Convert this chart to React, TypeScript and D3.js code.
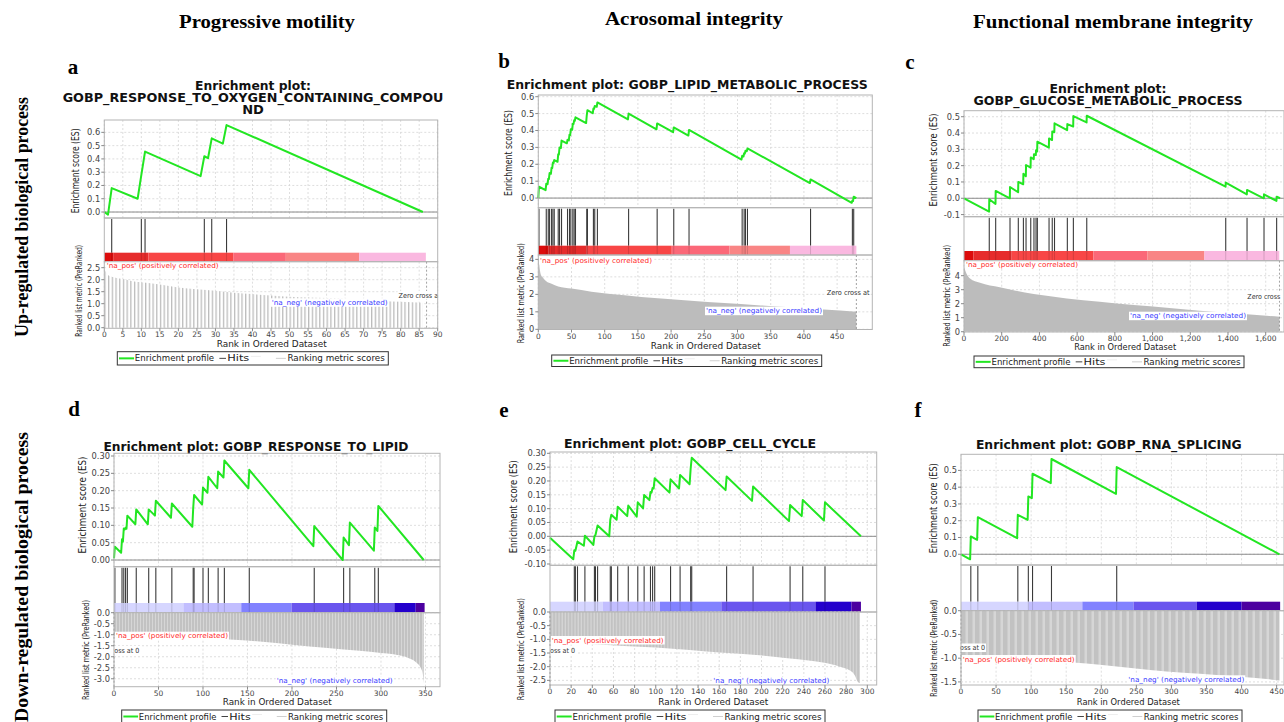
import * as d3 from "d3";

type Pt = [number, number];

// ---------------- text ----------------
const columnTitles = ["Progressive motility", "Acrosomal integrity", "Functional membrane integrity"];
const rowTitles = ["Up-regulated biological process", "Down-regulated biological process"];
const panelLetters = ["a", "b", "c", "d", "e", "f"];
const plotTitles = [
  ["Enrichment plot:", "GOBP_RESPONSE_TO_OXYGEN_CONTAINING_COMPOU", "ND"],
  ["Enrichment plot: GOBP_LIPID_METABOLIC_PROCESS"],
  ["Enrichment plot:", "GOBP_GLUCOSE_METABOLIC_PROCESS"],
  ["Enrichment plot: GOBP_RESPONSE_TO_LIPID"],
  ["Enrichment plot: GOBP_CELL_CYCLE"],
  ["Enrichment plot: GOBP_RNA_SPLICING"],
];
const legendLabels = ["Enrichment profile", "Hits", "Ranking metric scores"];
const posLabel = "'na_pos' (positively correlated)";
const negLabel = "'na_neg' (negatively correlated)";
// the "Zero cross at ..." notes are cut by the plot frame in the screenshots; only these parts show
const zeroLabels = ["Zero cross a", "Zero cross at", "Zero cross", "oss at 0", "oss at 0", "oss at 0"];

// ---------------- panel a ----------------
const hitsA = [2, 10, 11, 27, 29, 33];
const esA: Pt[] = [[0, 0], [1, -0.02], [2, 0.18], [9, 0.1], [10, 0.28], [11, 0.455], [26, 0.27], [27, 0.42], [28, 0.405], [29, 0.555], [32, 0.515], [33, 0.655], [86, 0]];
const metricA: Pt[] = [[0, 2.45], [1, 2.2], [2, 2.12], [3, 2.08], [5, 2.03], [7, 1.96], [10, 1.89], [15, 1.8], [20, 1.68], [25, 1.6], [30, 1.54], [35, 1.46], [40, 1.4], [45, 1.34], [50, 1.29], [55, 1.26], [60, 1.24], [65, 1.21], [70, 1.16], [75, 1.11], [80, 1.08], [86, 1.04]];
const bandsA = [0, 2.4, 11.9, 34.8, 49, 68.8, 86.8];
const zeroA = 87;
const xTicksA = [0, 5, 10, 15, 20, 25, 30, 35, 40, 45, 50, 55, 60, 65, 70, 75, 80, 85, 90];
const esTicksA = [0, 0.1, 0.2, 0.3, 0.4, 0.5, 0.6];
const rankTicksA = [0, 0.5, 1, 1.5, 2, 2.5];

// ---------------- panel b ----------------
const hitsB = [1, 12, 15, 17, 20, 22, 24, 30, 32, 35, 44, 47, 49, 52, 54, 56, 73, 74, 83, 85, 89, 136, 179, 204, 227, 307, 310, 312, 315, 410, 473, 475];
const esB: Pt[] = [[0, 0], [1, 0.067], [11, 0.047], [12, 0.085], [14, 0.082], [15, 0.115], [16, 0.113], [17, 0.148], [19, 0.144], [20, 0.18], [21, 0.178], [22, 0.21], [23, 0.208], [24, 0.225], [29, 0.215], [30, 0.26], [31, 0.258], [32, 0.3], [34, 0.296], [35, 0.34], [43, 0.324], [44, 0.345], [46, 0.341], [47, 0.375], [48, 0.373], [49, 0.408], [51, 0.404], [52, 0.44], [53, 0.438], [54, 0.46], [55, 0.458], [56, 0.478], [72, 0.444], [73, 0.49], [74, 0.52], [82, 0.502], [83, 0.53], [84, 0.528], [85, 0.545], [88, 0.54], [89, 0.566], [135, 0.466], [136, 0.5], [178, 0.407], [179, 0.442], [203, 0.39], [204, 0.418], [226, 0.37], [227, 0.403], [306, 0.228], [307, 0.25], [309, 0.246], [310, 0.265], [311, 0.263], [312, 0.28], [314, 0.277], [315, 0.294], [409, 0.089], [410, 0.11], [472, -0.028], [473, -0.015], [474, -0.017], [475, 0.008], [479, 0]];
const metricB: Pt[] = [[0, 4.2], [1, 3.9], [2, 3.5], [4, 3.1], [7, 2.95], [12, 2.75], [20, 2.6], [30, 2.45], [50, 2.33], [80, 2.15], [130, 1.95], [180, 1.77], [230, 1.63], [280, 1.5], [330, 1.38], [380, 1.26], [430, 1.13], [479, 1.01]];
const bandsB = [0, 15, 73, 201, 288, 379, 479];
const zeroB = 479;
const xTicksB = [0, 50, 100, 150, 200, 250, 300, 350, 400, 450];
const esTicksB = [0, 0.1, 0.2, 0.3, 0.4, 0.5, 0.6];
const rankTicksB = [0, 1, 2, 3, 4];

// ---------------- panel c ----------------
const hitsC = [134, 168, 244, 288, 315, 329, 354, 371, 382, 389, 451, 468, 480, 548, 580, 651, 1388, 1501, 1591, 1658];
const esC: Pt[] = [[0, 0], [133, -0.082], [134, -0.006], [167, -0.035], [168, 0.045], [243, 0], [244, 0.069], [287, 0.037], [288, 0.1], [314, 0.086], [315, 0.15], [328, 0.135], [329, 0.204], [353, 0.188], [354, 0.25], [370, 0.24], [371, 0.27], [381, 0.265], [382, 0.295], [388, 0.287], [389, 0.347], [450, 0.31], [451, 0.367], [467, 0.357], [468, 0.41], [479, 0.405], [480, 0.46], [547, 0.418], [548, 0.455], [579, 0.44], [580, 0.504], [650, 0.465], [651, 0.506], [1387, 0.071], [1388, 0.096], [1500, 0.024], [1501, 0.051], [1590, 0], [1591, 0.024], [1657, -0.016], [1658, 0.01], [1676, 0]];
const metricC: Pt[] = [[0, 4.64], [14, 4.12], [32, 3.8], [85, 3.5], [190, 3.17], [370, 2.69], [545, 2.38], [720, 2.14], [900, 1.9], [1075, 1.71], [1250, 1.5], [1430, 1.31], [1605, 1.14], [1673, 1.07]];
const bandsC = [0, 50, 253, 686, 972, 1275, 1672];
const zeroC = 1673;
const xTicksC = [0, 200, 400, 600, 800, 1000, 1200, 1400, 1600];
const esTicksC = [-0.1, 0, 0.1, 0.2, 0.3, 0.4, 0.5];
const rankTicksC = [0, 1, 2, 3, 4];

// ---------------- panel d ----------------
const hitsD = [1, 9, 11, 13, 15, 25, 39, 47, 65, 89, 90, 100, 106, 117, 124, 152, 225, 258, 265, 293, 297];
const esD: Pt[] = [[0, 0.005], [1, 0.038], [8, 0.021], [9, 0.06], [10, 0.053], [11, 0.091], [12, 0.088], [13, 0.093], [14, 0.09], [15, 0.128], [24, 0.103], [25, 0.146], [38, 0.103], [39, 0.146], [46, 0.128], [47, 0.171], [64, 0.122], [65, 0.163], [88, 0.096], [89, 0.15], [90, 0.1875], [99, 0.16], [100, 0.209], [105, 0.194], [106, 0.24], [116, 0.207], [117, 0.255], [123, 0.238], [124, 0.287], [151, 0.207], [152, 0.26], [224, 0.04], [225, 0.098], [257, 0], [258, 0.065], [264, 0.043], [265, 0.108], [292, 0.027], [293, 0.094], [296, 0.084], [297, 0.156], [348, 0]];
const metricD: Pt[] = [[0, -1.05], [50, -1.12], [100, -1.18], [130, -1.22], [170, -1.33], [200, -1.45], [240, -1.6], [276, -1.73], [300, -1.83], [314, -1.89], [332, -2.08], [340, -2.27], [345, -2.53], [347, -2.8], [348, -3.2]];
const bandsD = [0, 78, 143, 199.5, 315, 339, 349];
const zeroD = 0;
const xTicksD = [0, 50, 100, 150, 200, 250, 300, 350];
const esTicksD = [0, 0.05, 0.1, 0.15, 0.2, 0.25, 0.3];
const rankTicksD = [0, -0.5, -1, -1.5, -2, -2.5, -3];

// ---------------- panel e ----------------
const hitsE = [23, 24, 26, 33, 42, 43, 45, 57, 58, 64, 74, 83, 89, 95, 97, 99, 114, 123, 133, 134, 167, 192, 227, 239, 260];
const esE: Pt[] = [[0, -0.005], [22, -0.083], [23, -0.05], [24, -0.052], [26, -0.019], [32, -0.034], [33, 0.002], [41, -0.031], [42, 0], [43, 0.005], [45, 0.039], [56, 0], [57, 0.06], [58, 0.078], [63, 0.06], [64, 0.107], [73, 0.073], [74, 0.111], [82, 0.071], [83, 0.123], [88, 0.101], [89, 0.149], [94, 0.131], [95, 0.16], [96, 0.158], [97, 0.175], [98, 0.173], [99, 0.21], [113, 0.158], [114, 0.206], [122, 0.173], [123, 0.222], [132, 0.188], [133, 0.245], [134, 0.284], [166, 0.167], [167, 0.216], [191, 0.128], [192, 0.18], [226, 0.055], [227, 0.113], [238, 0.073], [239, 0.131], [259, 0.057], [260, 0.123], [294, 0]];
const metricE: Pt[] = [[0, -1.02], [10, -1.1], [38, -1.17], [70, -1.24], [100, -1.3], [132, -1.39], [164, -1.49], [195, -1.57], [227, -1.7], [258, -1.85], [274, -2.0], [284, -2.15], [288, -2.3], [291, -2.55], [293, -2.6]];
const bandsE = [0, 50, 104, 162, 251, 285, 294];
const zeroE = 0;
const xTicksE = [0, 20, 40, 60, 80, 100, 120, 140, 160, 180, 200, 220, 240, 260, 280, 300];
const esTicksE = [-0.1, -0.05, 0, 0.05, 0.1, 0.15, 0.2, 0.25, 0.3];
const rankTicksE = [0, -0.5, -1, -1.5, -2, -2.5];

// ---------------- panel f ----------------
const hitsF = [14, 24, 81, 96, 102, 129, 222];
const esF: Pt[] = [[0, 0], [13, -0.03], [14, 0.106], [23, 0.086], [24, 0.221], [80, 0.096], [81, 0.235], [95, 0.205], [96, 0.345], [101, 0.335], [102, 0.48], [128, 0.424], [129, 0.568], [221, 0.36], [222, 0.52], [454, 0]];
const metricF: Pt[] = [[0, -0.98], [50, -1.02], [100, -1.05], [160, -1.09], [198, -1.14], [246, -1.21], [293, -1.28], [341, -1.33], [388, -1.38], [436, -1.44], [454, -1.47]];
const bandsF = [0, 96, 173, 246, 336, 400, 455];
const zeroF = 0;
const xTicksF = [0, 50, 100, 150, 200, 250, 300, 350, 400, 450];
const esTicksF = [0, 0.1, 0.2, 0.3, 0.4, 0.5];
const rankTicksF = [0, -0.5, -1, -1.5];

// ---------------- styles ----------------
const redShades = ["#dc0c0c", "#e62c2c", "#f84646", "#fb6878", "#f98585", "#fab8e0"];
const blueShades = ["#d6d6ff", "#c2beff", "#8282ff", "#6a55ee", "#2400cc", "#4c00a0"];
const esColor = "#22e622";
const sans = "DejaVu Sans, Verdana, sans-serif";
const serif = "Liberation Serif, Times New Roman, serif";

const panels = [
  { title: plotTitles[0], es: esA, hits: hitsA, metric: metricA, bands: bandsA, zero: zeroA, xTicks: xTicksA, esTicks: esTicksA, rankTicks: rankTicksA, shades: redShades },
  { title: plotTitles[1], es: esB, hits: hitsB, metric: metricB, bands: bandsB, zero: zeroB, xTicks: xTicksB, esTicks: esTicksB, rankTicks: rankTicksB, shades: redShades },
  { title: plotTitles[2], es: esC, hits: hitsC, metric: metricC, bands: bandsC, zero: zeroC, xTicks: xTicksC, esTicks: esTicksC, rankTicks: rankTicksC, shades: redShades },
  { title: plotTitles[3], es: esD, hits: hitsD, metric: metricD, bands: bandsD, zero: zeroD, xTicks: xTicksD, esTicks: esTicksD, rankTicks: rankTicksD, shades: blueShades },
  { title: plotTitles[4], es: esE, hits: hitsE, metric: metricE, bands: bandsE, zero: zeroE, xTicks: xTicksE, esTicks: esTicksE, rankTicks: rankTicksE, shades: blueShades },
  { title: plotTitles[5], es: esF, hits: hitsF, metric: metricF, bands: bandsF, zero: zeroF, xTicks: xTicksF, esTicks: esTicksF, rankTicks: rankTicksF, shades: blueShades },
];

// pixel layout of each screenshot panel
const layouts = [
  { l: 104.3, r: 437.7, xMax: 90, esTop: 120, esBot: 218, esDom: [-0.045, 0.693], hitBot: 252.7, barBot: 261.7, rankBot: 328.3, rankDom: [-0.025, 2.75], esDec: 1, rankDec: 1,
    titleX: 253, titleY: [90.2, 102.2, 113.8], titleW: [116, 380.7, 21.7], titleSize: 11.5, esLab: [75, 170.8, 85], rkLab: [78.3, 290.8, 92], xLab: [271.7, 347.3, 110],
    leg: [117.3, 351.7, 271, 13.3], pos: [106.7, 267.5], neg: [271.7, 304.8], zeroLab: [398.5, 297.5], zeroEnd: false, letter: [73, 74], stripe: [0, 1.3] },
  { l: 538.3, r: 872.3, xMax: 503, esTop: 95, esBot: 207.7, esDom: [-0.057, 0.61], hitBot: 245.7, barBot: 255, rankBot: 329.5, rankDom: [-0.01, 4.25], esDec: 1, rankDec: 0,
    titleX: 687.2, titleY: [89], titleW: [361], titleSize: 12.5, esLab: [508.3, 153, 86], rkLab: [520, 293.3, 100], xLab: [705.8, 349, 110],
    leg: [551.7, 355, 270, 11.5], pos: [540, 262.5], neg: [706, 313.2], zeroLab: [826.7, 295], zeroEnd: false, letter: [504, 68], stripe: [2, 2] },
  { l: 964, r: 1284, xMax: 1697, esTop: 110.7, esBot: 216.7, esDom: [-0.113, 0.537], hitBot: 251, barBot: 260.7, rankBot: 332, rankDom: [-0.02, 5.07], esDec: 1, rankDec: 0,
    titleX: 1108, titleY: [93, 105.2], titleW: [117, 269], titleSize: 11.5, esLab: [933.3, 160, 93], rkLab: [946.7, 295.8, 102], xLab: [1125.2, 350.3, 102],
    leg: [974, 356, 270, 11.7], pos: [966, 266.5], neg: [1130, 318.2], zeroLab: [1247.3, 298.5], zeroEnd: false, letter: [910, 69], stripe: [2, 2] },
  { l: 114, r: 440, xMax: 366.3, esTop: 453.3, esBot: 566.7, esDom: [-0.0193, 0.3078], hitBot: 603, barBot: 612.7, rankBot: 686.7, rankDom: [-3.36, 0], esDec: 2, rankDec: 1,
    titleX: 256, titleY: [450.7], titleW: [305], titleSize: 12.5, esLab: [81.7, 505, 97], rkLab: [85, 650, 100], xLab: [277.2, 705.3, 109],
    leg: [121.7, 710, 265, 13], pos: [116, 638.2], neg: [276.7, 683.2], zeroLab: [139.3, 652.5], zeroEnd: true, letter: [74, 416], stripe: [3, 2] },
  { l: 550, r: 876.7, xMax: 308.9, esTop: 452, esBot: 565.3, esDom: [-0.1047, 0.3047], hitBot: 601.7, barBot: 612, rankBot: 685, rankDom: [-2.67, 0], esDec: 2, rankDec: 1,
    titleX: 690, titleY: [448.3], titleW: [252], titleSize: 12.5, esLab: [513.3, 506.7, 93], rkLab: [520, 649.2, 102], xLab: [713.3, 705.3, 110],
    leg: [555, 710, 270, 13], pos: [551.7, 642.5], neg: [713.3, 683.2], zeroLab: [575, 652.5], zeroEnd: true, letter: [504, 417], stripe: [3.2, 2] },
  { l: 961, r: 1284, xMax: 460.5, esTop: 454.3, esBot: 565, esDom: [-0.064, 0.596], hitBot: 601.7, barBot: 610.7, rankBot: 685, rankDom: [-1.565, 0], esDec: 1, rankDec: 1,
    titleX: 1108.8, titleY: [449], titleW: [265.7], titleSize: 12.5, esLab: [933.3, 508.3, 90], rkLab: [933.3, 648.3, 97], xLab: [1128.3, 704.5, 103],
    leg: [978, 710, 264, 13], pos: [962.7, 661.5], neg: [1128.3, 681.8], zeroLab: [985, 650], zeroEnd: true, letter: [918, 417], stripe: [7, 4.5] },
];

const gridStroke = "#d6d6d6";
const frameStroke = "#b4b4b4";
const fmtComma = d3.format(",");

function Panel({ i }: { i: number }) {
  const s = panels[i];
  const L = layouts[i];
  const x = d3.scaleLinear().domain([0, L.xMax]).range([L.l, L.r]);
  const yE = d3.scaleLinear().domain(L.esDom).range([L.esBot, L.esTop]);
  const yR = d3.scaleLinear().domain(L.rankDom).range([L.rankBot, L.barBot]);
  const esPath = d3.line<Pt>().x((d) => x(d[0])).y((d) => yE(d[1]))(s.es) || "";
  const metricPath = d3
    .area<Pt>()
    .x((d) => x(d[0]))
    .y0(yR(0))
    .y1((d) => yR(d[1]))
    .curve(d3.curveMonotoneX)(s.metric) || "";
  const id = "pn" + i;
  // panel a shows one bar per rank, the denser panels show moiré stripes
  const period = L.stripe[0] === 0 ? x(1) - x(0) : L.stripe[0];
  const lightFill = L.stripe[0] === 0 ? "#ffffff" : i < 3 ? "#c2c2c2" : "#d6d6d6";
  const w = L.r - L.l;
  const xFmt = (v: number) => (v >= 1000 ? fmtComma(v) : String(v));
  const legS = L.leg[2] / 270;
  const legMid = L.leg[1] + L.leg[3] / 2;
  const labelBox = (tx: number, ty: number, text: string, color: string, tw: number, anchorEnd = false) => (
    <g>
      <rect x={anchorEnd ? tx - tw - 1 : tx - 1} y={ty - 6.5} width={tw + 2} height={8.5} fill="#ffffff" />
      <text x={tx} y={ty} fontSize={7} fill={color} textAnchor={anchorEnd ? "end" : "start"} textLength={tw} lengthAdjust="spacingAndGlyphs">
        {text}
      </text>
    </g>
  );

  return (
    <g fontFamily={sans}>
      <defs>
        <pattern id={id + "pat"} patternUnits="userSpaceOnUse" x={x(0)} y={0} width={period} height={20}>
          <rect width={period} height={20} fill={lightFill} />
          <rect width={L.stripe[1]} height={20} fill={i < 3 ? "#bcbcbc" : "#c2c2c2"} />
        </pattern>
      </defs>

      {/* title */}
      {s.title.map((t, k) => (
        <text key={k} x={L.titleX} y={L.titleY[k]} textAnchor="middle" fontSize={L.titleSize} fontWeight="bold" fill="#111"
          textLength={L.titleW[k]} lengthAdjust="spacingAndGlyphs">
          {t}
        </text>
      ))}

      {/* ES panel */}
      {s.xTicks.map((t) => (
        <line key={"gx" + t} x1={x(t)} x2={x(t)} y1={L.esTop} y2={L.esBot} stroke={gridStroke} strokeDasharray="2,2" strokeWidth={0.8} />
      ))}
      {s.esTicks.map((t) => (
        <line key={"gy" + t} x1={L.l} x2={L.r} y1={yE(t)} y2={yE(t)} stroke={gridStroke} strokeDasharray="2,2" strokeWidth={0.8} />
      ))}
      <line x1={L.l} x2={L.r} y1={yE(0)} y2={yE(0)} stroke="#8c8c8c" strokeWidth={1} />
      <path d={esPath} fill="none" stroke={esColor} strokeWidth={2} strokeLinejoin="round" />
      <rect x={L.l} y={L.esTop} width={w} height={L.esBot - L.esTop} fill="none" stroke={frameStroke} />

      {/* hits + colour bar */}
      {s.hits.map((h, k) => (
        <line key={"h" + k} x1={x(h)} x2={x(h)} y1={L.esBot + 1} y2={L.hitBot} stroke="#3a3a3a" strokeWidth={1.1} />
      ))}
      {s.bands.slice(1).map((b, k) => (
        <rect key={"b" + k} x={x(s.bands[k])} y={L.hitBot} width={x(b) - x(s.bands[k])} height={L.barBot - L.hitBot} fill={s.shades[k]} />
      ))}
      {s.hits.map((h, k) => (
        <line key={"ho" + k} x1={x(h)} x2={x(h)} y1={L.hitBot} y2={L.barBot} stroke="#000" strokeOpacity={0.15} strokeWidth={1} />
      ))}
      <rect x={L.l} y={L.esBot} width={w} height={L.barBot - L.esBot} fill="none" stroke={frameStroke} />

      {/* ranked list metric */}
      {s.xTicks.map((t) => (
        <line key={"rx" + t} x1={x(t)} x2={x(t)} y1={L.barBot} y2={L.rankBot} stroke={gridStroke} strokeDasharray="2,2" strokeWidth={0.8} />
      ))}
      {s.rankTicks.map((t) => (
        <line key={"ry" + t} x1={L.l} x2={L.r} y1={yR(t)} y2={yR(t)} stroke={gridStroke} strokeDasharray="2,2" strokeWidth={0.8} />
      ))}
      <path d={metricPath} fill={`url(#${id}pat)`} />
      <line x1={x(s.zero)} x2={x(s.zero)} y1={L.barBot} y2={L.rankBot} stroke="#8a8a8a" strokeDasharray="2,2" strokeWidth={0.8} />
      {labelBox(L.pos[0], L.pos[1], posLabel, "#ff2a2a", 112)}
      {labelBox(L.neg[0], L.neg[1], negLabel, "#3a3aff", 116)}
      {labelBox(L.zeroLab[0], L.zeroLab[1], zeroLabels[i], "#333", L.zeroEnd ? 25 : zeroLabels[i].length * 3.3, L.zeroEnd)}
      <rect x={L.l} y={L.barBot} width={w} height={L.rankBot - L.barBot} fill="none" stroke={frameStroke} />

      {/* axes */}
      {s.esTicks.map((t) => (
        <g key={"et" + t}>
          <line x1={L.l - 3} x2={L.l} y1={yE(t)} y2={yE(t)} stroke="#888" />
          <text x={L.l - 4} y={yE(t) + 3} textAnchor="end" fontSize={8.3} fill="#444">{t.toFixed(L.esDec)}</text>
        </g>
      ))}
      {s.rankTicks.map((t) => (
        <g key={"rt" + t}>
          <line x1={L.l - 3} x2={L.l} y1={yR(t)} y2={yR(t)} stroke="#888" />
          <text x={L.l - 4} y={yR(t) + 3} textAnchor="end" fontSize={8.3} fill="#444">{t.toFixed(L.rankDec)}</text>
        </g>
      ))}
      {s.xTicks.map((t) => (
        <g key={"xt" + t}>
          <line x1={x(t)} x2={x(t)} y1={L.rankBot} y2={L.rankBot + 3} stroke="#888" />
          <text x={x(t)} y={L.rankBot + 9} textAnchor="middle" fontSize={7.5} fill="#444">{xFmt(t)}</text>
        </g>
      ))}
      <text transform={`translate(${L.esLab[0]},${L.esLab[1]}) rotate(-90)`} textAnchor="middle" dominantBaseline="central" fontSize={10.5} fill="#222"
        textLength={L.esLab[2]} lengthAdjust="spacingAndGlyphs">
        Enrichment score (ES)
      </text>
      <text transform={`translate(${L.rkLab[0]},${L.rkLab[1]}) rotate(-90)`} textAnchor="middle" dominantBaseline="central" fontSize={9.3} fill="#222"
        textLength={L.rkLab[2]} lengthAdjust="spacingAndGlyphs">
        Ranked list metric (PreRanked)
      </text>
      <text x={L.xLab[0]} y={L.xLab[1]} textAnchor="middle" fontSize={9.5} fill="#222" textLength={L.xLab[2]} lengthAdjust="spacingAndGlyphs">
        Rank in Ordered Dataset
      </text>

      {/* legend */}
      <rect x={L.leg[0]} y={L.leg[1]} width={L.leg[2]} height={L.leg[3]} fill="#fff" stroke="#333" strokeWidth={1} />
      <line x1={L.leg[0] + 1.7 * legS} x2={L.leg[0] + 16.7 * legS} y1={legMid} y2={legMid} stroke={esColor} strokeWidth={2} />
      <text x={L.leg[0] + 17.5 * legS} y={legMid + 3} fontSize={8} fill="#222" textLength={79 * legS} lengthAdjust="spacingAndGlyphs">{legendLabels[0]}</text>
      <line x1={L.leg[0] + 101.7 * legS} x2={L.leg[0] + 108.3 * legS} y1={legMid} y2={legMid} stroke="#444" strokeWidth={1} />
      <text x={L.leg[0] + 109.5 * legS} y={legMid + 3} fontSize={8} fill="#222" textLength={22 * legS} lengthAdjust="spacingAndGlyphs">{legendLabels[1]}</text>
      <line x1={L.leg[0] + 133 * legS} x2={L.leg[0] + 143 * legS} y1={legMid - 2} y2={legMid - 2} stroke="#eeeeee" strokeWidth={1} />
      <line x1={L.leg[0] + 158 * legS} x2={L.leg[0] + 168 * legS} y1={legMid} y2={legMid} stroke="#cfcfcf" strokeWidth={1} />
      <text x={L.leg[0] + 169.5 * legS} y={legMid + 3} fontSize={8} fill="#222" textLength={97 * legS} lengthAdjust="spacingAndGlyphs">{legendLabels[2]}</text>

      {/* panel letter */}
      <text x={L.letter[0]} y={L.letter[1]} textAnchor="middle" fontFamily={serif} fontWeight="bold" fontSize={21} fill="#000">
        {panelLetters[i]}
      </text>
    </g>
  );
}

export default function App() {
  const colX = [267, 694, 1113];
  const colY = [28, 25, 28];
  const colW = [176, 178, 280];
  return (
    <svg width={1284} height={722} viewBox="0 0 1284 722" style={{ position: "absolute", left: 0, top: 0, background: "#fff" }}>
      <rect width={1284} height={722} fill="#fff" />
      {columnTitles.map((t, k) => (
        <text key={t} x={colX[k]} y={colY[k]} textAnchor="middle" fontFamily={serif} fontWeight="bold" fontSize={19} fill="#000"
          textLength={colW[k]} lengthAdjust="spacingAndGlyphs">
          {t}
        </text>
      ))}
      <text transform="translate(22,217) rotate(-90)" textAnchor="middle" dominantBaseline="central" fontFamily={serif} fontWeight="bold" fontSize={18}
        textLength={240} lengthAdjust="spacingAndGlyphs">
        {rowTitles[0]}
      </text>
      <text transform="translate(22,577) rotate(-90)" textAnchor="middle" dominantBaseline="central" fontFamily={serif} fontWeight="bold" fontSize={18}
        textLength={290} lengthAdjust="spacingAndGlyphs">
        {rowTitles[1]}
      </text>
      {panels.map((_, i) => (
        <Panel key={i} i={i} />
      ))}
    </svg>
  );
}
